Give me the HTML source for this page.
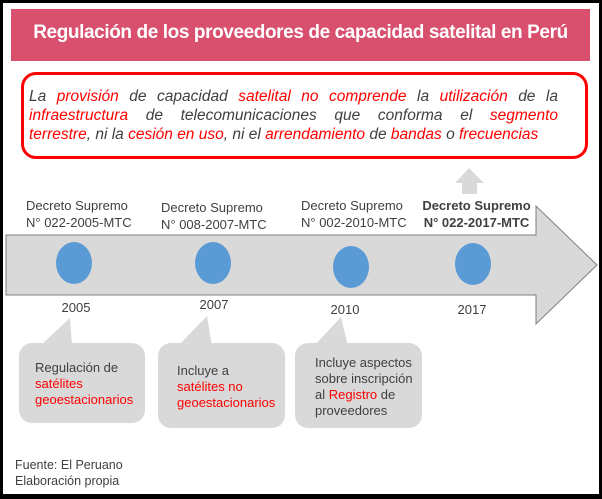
<!DOCTYPE html>
<html><head><meta charset="utf-8"><style>
body{margin:0;width:602px;height:499px;overflow:hidden;background:#000;font-family:"Liberation Sans",Arial,sans-serif}
#f{position:absolute;left:3px;top:3px;width:596px;height:491px;background:#fff}
.t{position:absolute;white-space:nowrap;color:#404040}
.r{color:#f00}
.ln{position:absolute;left:29px;width:529px;font-size:15.5px;font-style:italic;color:#404040;text-align:justify;text-align-last:justify;white-space:nowrap}
</style></head><body>
<div id="f"></div>
<div style="position:absolute;left:11px;top:9px;width:579px;height:52px;background:#d9506f"></div>
<div class="t" style="left:11px;width:579px;top:22px;text-align:center;color:#fff;font-weight:bold;font-size:19px;letter-spacing:-0.4px">Regulación de los proveedores de capacidad satelital en Perú</div>
<div style="position:absolute;left:21px;top:72px;width:561px;height:81px;border:3px solid #f00;border-radius:15px"></div>
<div class="ln" style="top:88px">La <span class="r">provisión</span> de capacidad <span class="r">satelital no comprende</span> la <span class="r">utilización</span> de la</div>
<div class="ln" style="top:107px"><span class="r">infraestructura</span> de telecomunicaciones que conforma el <span class="r">segmento</span></div>
<div class="ln" style="top:126px;text-align-last:left"><span class="r">terrestre</span>, ni la <span class="r">cesión en uso</span>, ni el <span class="r">arrendamiento</span> de <span class="r">bandas</span> o <span class="r">frecuencias</span></div>
<svg style="position:absolute;left:0;top:0" width="602" height="499">
<polygon points="6,235 536,235 536,206 597,265 536,324 536,295 6,295" fill="#d9d9d9" stroke="#7f7f7f" stroke-width="1"/>
<polygon points="469,168 484,183 477,183 477,194 462,194 462,183 455,183" fill="#d9d9d9"/>
<g fill="#5b9bd5"><ellipse cx="74" cy="263" rx="18" ry="21"/><ellipse cx="213" cy="263" rx="18" ry="21"/><ellipse cx="351" cy="267" rx="18" ry="21"/><ellipse cx="473" cy="264" rx="18" ry="21"/></g>
<g fill="#d9d9d9">
<polygon points="40,346 72,346 70,318"/><rect x="19" y="343" width="126" height="80" rx="13"/>
<polygon points="178,346 212,346 207,316"/><rect x="158" y="343" width="127" height="85" rx="13"/>
<polygon points="314,346 348,346 341,317"/><rect x="295" y="343" width="127" height="85" rx="13"/>
</g></svg>
<div class="t" style="left:26px;top:197px;font-size:13px;line-height:17px">Decreto Supremo<br>N° 022-2005-MTC</div>
<div class="t" style="left:161px;top:199px;font-size:13px;line-height:17px">Decreto Supremo<br>N° 008-2007-MTC</div>
<div class="t" style="left:301px;top:197px;font-size:13px;line-height:17px">Decreto Supremo<br>N° 002-2010-MTC</div>
<div class="t" style="left:419px;top:197px;font-size:13px;line-height:17px;font-weight:bold;text-align:center;width:115px">Decreto Supremo<br>N° 022-2017-MTC</div>
<div class="t" style="left:56px;width:40px;text-align:center;top:300px;font-size:13px">2005</div>
<div class="t" style="left:194px;width:40px;text-align:center;top:297px;font-size:13px">2007</div>
<div class="t" style="left:325px;width:40px;text-align:center;top:302px;font-size:13px">2010</div>
<div class="t" style="left:452px;width:40px;text-align:center;top:302px;font-size:13px">2017</div>
<div class="t" style="left:35px;top:360px;font-size:13px;line-height:16px">Regulación de<br><span class="r">satélites<br>geoestacionarios</span></div>
<div class="t" style="left:177px;top:363px;font-size:13px;line-height:16px">Incluye a<br><span class="r">satélites no<br>geoestacionarios</span></div>
<div class="t" style="left:315px;top:355px;font-size:13px;line-height:16px">Incluye aspectos<br>sobre inscripción<br>al <span class="r">Registro</span> de<br>proveedores</div>
<div class="t" style="left:15px;top:457px;font-size:12.5px;line-height:16px">Fuente: El Peruano<br>Elaboración propia</div>
</body></html>
